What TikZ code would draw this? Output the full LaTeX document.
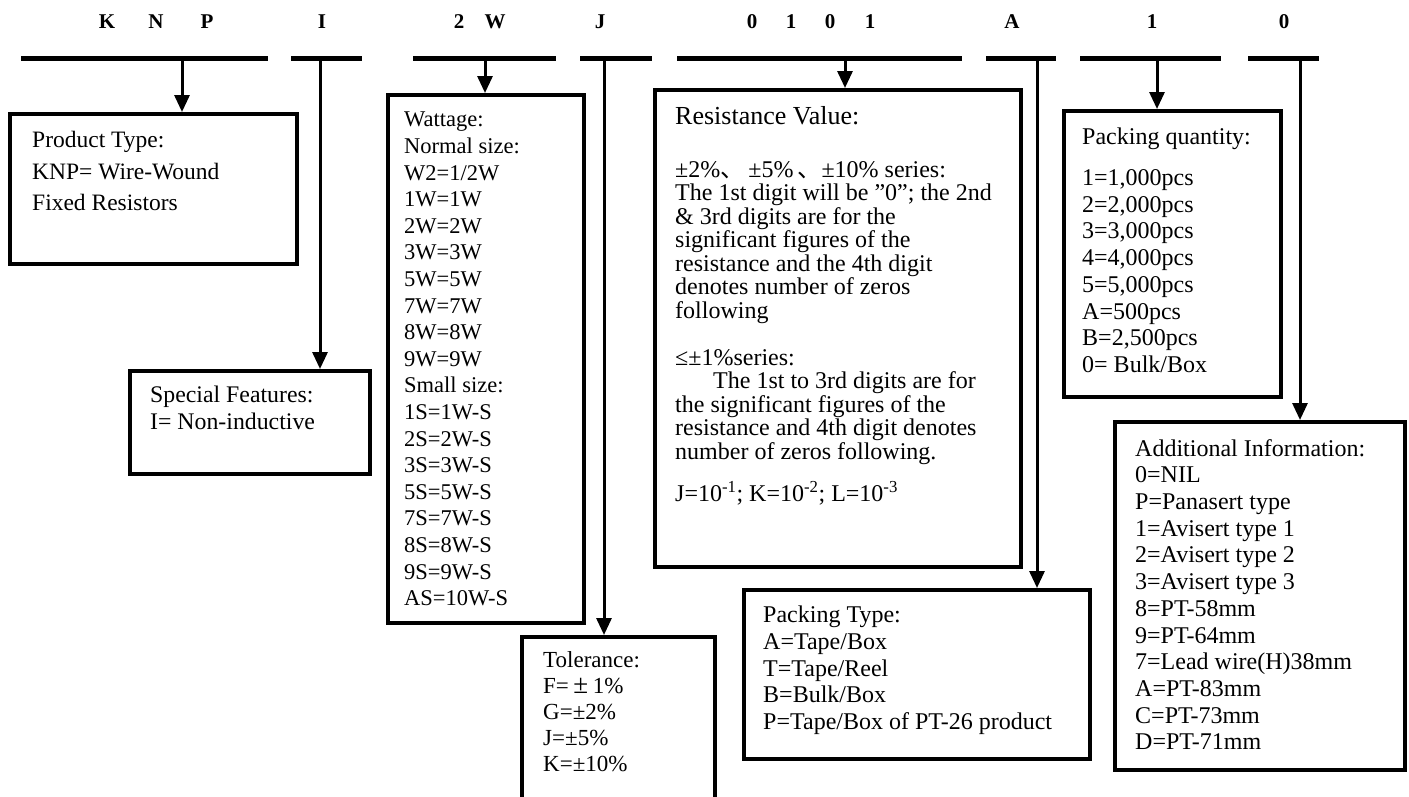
\documentclass[tikz,border=0pt]{standalone}
\usepackage{fontspec}
\setmainfont{Liberation Serif}
\newfontfamily\cjk{Noto Sans CJK SC}
\usetikzlibrary{arrows.meta,positioning}

\begin{document}
\begin{tikzpicture}[x=1pt,y=-1pt,
  box/.style={draw, line width=3.5pt, anchor=north west, inner sep=0pt},
  bar/.style={fill, inner sep=0pt, minimum height=5pt, anchor=west},
  txt/.style={inner sep=0pt, align=left, font=\fontsize{24}{26.7}\selectfont},
  code/.style={font=\fontsize{21}{21}\selectfont\bfseries},
  arr/.style={line width=3pt, -{Triangle[width=15pt,length=17pt]}}]
  \useasboundingbox (0,0) rectangle (1409,796);

  % part number
  \node[code] (cK) at (107,22) {K};
  \node[code] (cN) at (156,22) {N};
  \node[code] (cP) at (207,22) {P};
  \node[code] (cI) at (322,22) {I};
  \node[code] (c2) at (459,22) {2};
  \node[code] (cW) at (495,22) {W};
  \node[code] (cJ) at (600,22) {J};
  \node[code] (c0a) at (752,22) {0};
  \node[code] (c1a) at (791,22) {1};
  \node[code] (c0b) at (830,22) {0};
  \node[code] (c1b) at (870,22) {1};
  \node[code] (cA) at (1012,22) {A};
  \node[code] (c1c) at (1152,22) {1};
  \node[code] (c0c) at (1284,22) {0};

  % bars under the code
  \node[bar, minimum width=247pt] (bKNP) at (21,58) {};
  \node[bar, minimum width=71pt] (bI) at (291,58) {};
  \node[bar, minimum width=143pt] (bW) at (413,58) {};
  \node[bar, minimum width=72pt] (bJ) at (580,58) {};
  \node[bar, minimum width=285pt] (bR) at (677,58) {};
  \node[bar, minimum width=70pt] (bA) at (986,58) {};
  \node[bar, minimum width=141pt] (bQ) at (1080,58) {};
  \node[bar, minimum width=71pt] (bX) at (1248,58) {};

  % boxes
  \node[box, minimum width=287pt, minimum height=150pt] (prod) at (8,112) {};
  \node[box, minimum width=240pt, minimum height=103pt] (spec) at (128,369) {};
  \node[box, minimum width=196pt, minimum height=528pt] (watt) at (386,93) {};
  \node[box, minimum width=193pt, minimum height=175pt] (tol) at (520,635) {};
  \node[box, minimum width=366pt, minimum height=477pt] (res) at (653,88) {};
  \node[box, minimum width=346pt, minimum height=169pt] (ptype) at (742,588) {};
  \node[box, minimum width=217pt, minimum height=286pt] (pqty) at (1062,109) {};
  \node[box, minimum width=290pt, minimum height=348pt] (add) at (1113,420) {};

  % texts
  \node[txt, font=\fontsize{23.5}{31.5}\selectfont, below right=19pt and 24pt of prod.north west] (prodtxt)
    {Product Type:\\KNP= Wire-Wound\\Fixed Resistors};
  \node[txt, font=\fontsize{23.8}{27}\selectfont, below right=17pt and 22pt of spec.north west] (spectxt)
    {Special Features:\\I= Non-inductive};
  \node[txt, font=\fontsize{22.5}{26.6}\selectfont, below right=19pt and 18pt of watt.north west] (watttxt)
    {Wattage:\\Normal size:\\W2=1/2W\\1W=1W\\2W=2W\\3W=3W\\5W=5W\\7W=7W\\8W=8W\\9W=9W\\
     Small size:\\1S=1W-S\\2S=2W-S\\3S=3W-S\\5S=5W-S\\7S=7W-S\\8S=8W-S\\9S=9W-S\\AS=10W-S};
  \node[txt, font=\fontsize{23}{26}\selectfont, below right=16pt and 23pt of tol.north west] (toltxt)
    {Tolerance:\\F={\fontsize{27}{26}\selectfont\,±\,}1\%\\G=±2\%\\J=±5\%\\K=±10\%};
  \node[txt, font=\fontsize{26}{26}\selectfont, below right=18pt and 22pt of res.north west] (reshead)
    {Resistance Value:};
  \node[txt, font=\fontsize{24}{23.5}\selectfont, below right=73pt and 22pt of res.north west] (restxt)
    {±2\%{\cjk 、}\,±5\%\,{\cjk 、}±10\% series:\\
     The 1st digit will be ”0”; the 2nd\\
     \& 3rd digits are for the\\
     significant figures of the\\
     resistance and the 4th digit\\
     denotes number of zeros\\
     following\\[23.5pt]
     ≤±1\%series:\\
     \hspace*{38pt}The 1st to 3rd digits are for\\
     the significant figures of the\\
     resistance and 4th digit denotes\\
     number of zeros following.\\[16pt]
     J=10\textsuperscript{-1}; K=10\textsuperscript{-2}; L=10\textsuperscript{-3}};
  \node[txt, below right=19pt and 20pt of pqty.north west] (pqtytxt)
    {Packing quantity:\\[14pt]1=1,000pcs\\2=2,000pcs\\3=3,000pcs\\4=4,000pcs\\5=5,000pcs\\
     A=500pcs\\B=2,500pcs\\0= Bulk/Box};
  \node[txt, below right=18pt and 21pt of ptype.north west] (ptypetxt)
    {Packing Type:\\A=Tape/Box\\T=Tape/Reel\\B=Bulk/Box\\P=Tape/Box of PT-26 product};
  \node[txt, below right=19pt and 22pt of add.north west] (addtxt)
    {Additional Information:\\0=NIL\\P=Panasert type\\1=Avisert type 1\\2=Avisert type 2\\
     3=Avisert type 3\\8=PT-58mm\\9=PT-64mm\\7=Lead wire(H)38mm\\A=PT-83mm\\C=PT-73mm\\D=PT-71mm};

  % arrows from the bars
  \coordinate (xKNP) at (182,0);
  \coordinate (xI) at (320,0);
  \coordinate (xW) at (485,0);
  \coordinate (xJ) at (604,0);
  \coordinate (xR) at (845,0);
  \coordinate (xA) at (1037,0);
  \coordinate (xQ) at (1157,0);
  \coordinate (xX) at (1300,0);
  \draw[arr] (bKNP.center -| xKNP) -- (prod.north -| xKNP);
  \draw[arr] (bI.center -| xI) -- (spec.north -| xI);
  \draw[arr] (bW.center -| xW) -- (watt.north -| xW);
  \draw[arr] (bJ.center -| xJ) -- (tol.north -| xJ);
  \draw[arr] (bR.center -| xR) -- (res.north -| xR);
  \draw[arr] (bA.center -| xA) -- (ptype.north -| xA);
  \draw[arr] (bQ.center -| xQ) -- (pqty.north -| xQ);
  \draw[arr] (bX.center -| xX) -- (add.north -| xX);
\end{tikzpicture}
\end{document}
